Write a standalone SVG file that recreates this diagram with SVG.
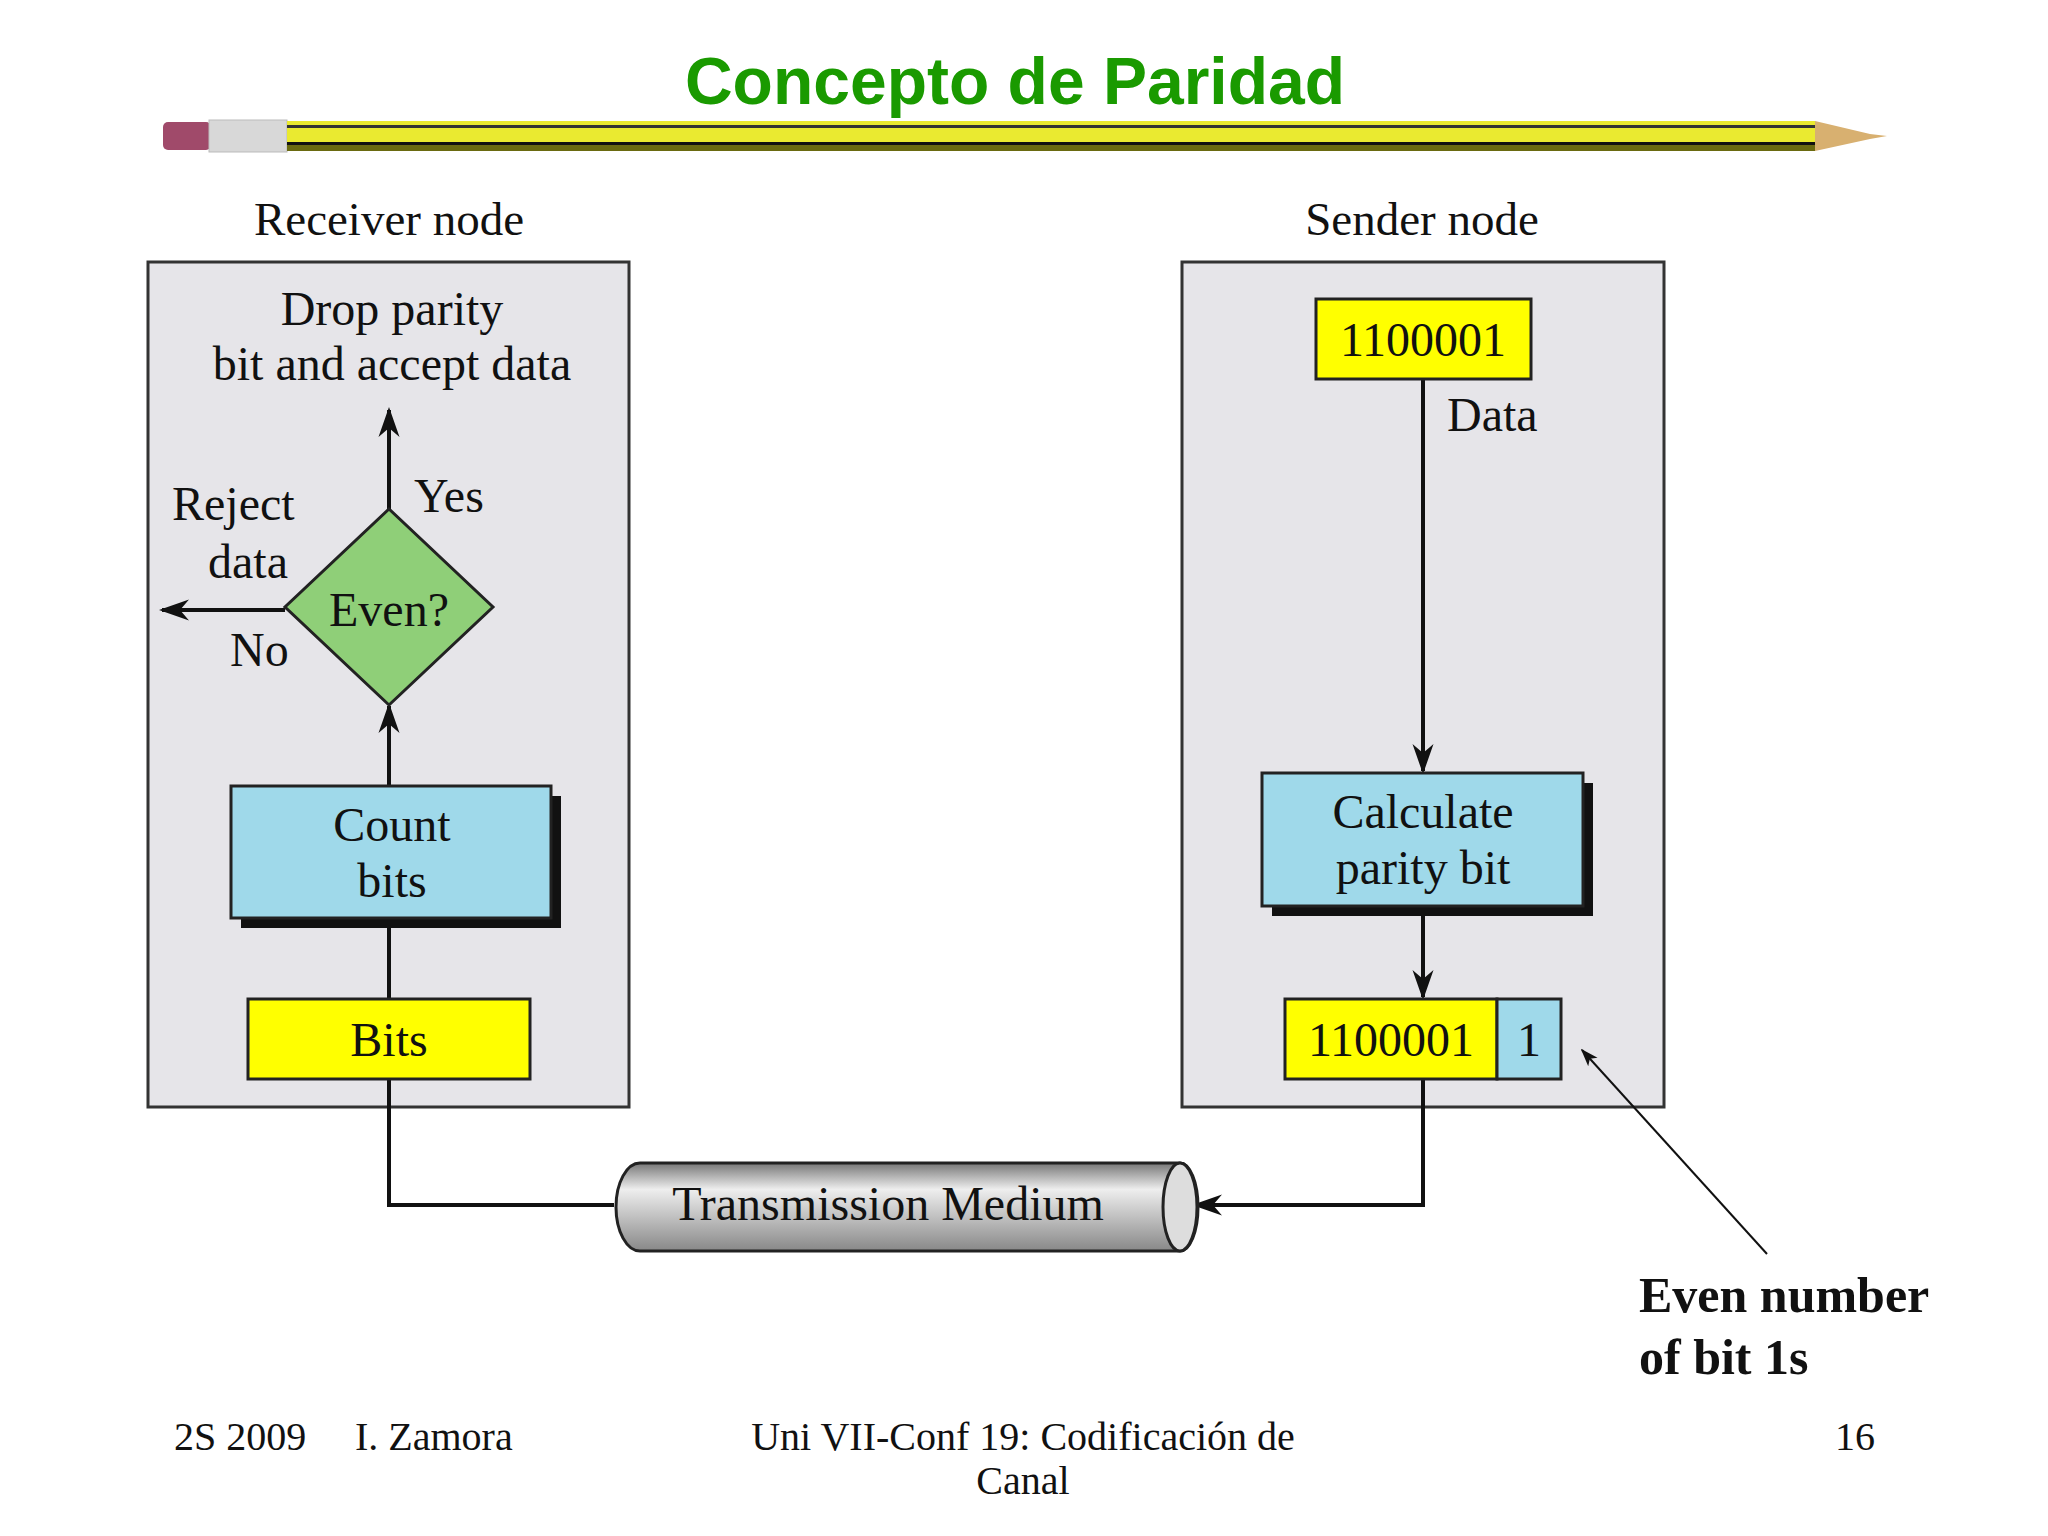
<svg xmlns="http://www.w3.org/2000/svg" width="2048" height="1536" viewBox="0 0 2048 1536">
<defs>
<style>
.t{font-family:"Liberation Serif",serif;fill:#111;}
.box{fill:#e6e5e9;stroke:#333;stroke-width:3}
.ln{stroke:#111;stroke-width:4;fill:none}
.blue{fill:#9fd9ea;stroke:#222;stroke-width:3}
.yel{fill:#ffff00;stroke:#222;stroke-width:3}
</style>
<marker id="ah" viewBox="0 0 20 20" refX="18" refY="10" markerWidth="30" markerHeight="30" markerUnits="userSpaceOnUse" orient="auto"><path d="M0,3 L20,10 L0,17 L6,10 Z" fill="#111"/></marker>
<marker id="as" viewBox="0 0 20 20" refX="18" refY="10" markerWidth="18" markerHeight="18" markerUnits="userSpaceOnUse" orient="auto"><path d="M0,3 L20,10 L0,17 L5,10 Z" fill="#111"/></marker>
<linearGradient id="cyl" x1="0" y1="0" x2="0" y2="1"><stop offset="0" stop-color="#777"/><stop offset="0.3" stop-color="#eee"/><stop offset="1" stop-color="#888"/></linearGradient>
</defs>
<rect width="2048" height="1536" fill="#fff"/>
<text x="1015" y="104" text-anchor="middle" font-family="Liberation Sans,Arial,sans-serif" font-weight="bold" font-size="66" fill="#1a9a00">Concepto de Paridad</text>
<g id="pencil">
<rect x="163" y="122" width="48" height="28" rx="5" fill="#a04a6a"/>
<rect x="209" y="120" width="78" height="32" fill="#d8d8d8" stroke="#bbb"/>
<rect x="287" y="121" width="1528" height="30" fill="#eaea30"/>
<rect x="287" y="125" width="1528" height="3" fill="#333"/>
<rect x="287" y="142" width="1528" height="3" fill="#111"/>
<rect x="287" y="145" width="1528" height="6" fill="#6a6a10"/>
<polygon points="1815,121 1870,134 1887,136 1870,139 1815,151" fill="#d8b070"/>
</g>
<text class="t" x="389" y="235" text-anchor="middle" font-size="47">Receiver node</text>
<text class="t" x="1422" y="235" text-anchor="middle" font-size="47">Sender node</text>
<g id="receiver"><rect class="box" x="148" y="262" width="481" height="845"/></g>
<g id="sender"><rect class="box" x="1182" y="262" width="482" height="845"/></g>
<g id="drop"><text class="t" x="392" y="325" text-anchor="middle" font-size="48">Drop parity</text><text class="t" x="392" y="380" text-anchor="middle" font-size="48">bit and accept data</text></g>
<g id="reject"><text class="t" x="172" y="520" font-size="48">Reject</text><text class="t" x="248" y="578" text-anchor="middle" font-size="48">data</text></g>
<g id="connectors">
<line class="ln" x1="389" y1="509" x2="389" y2="410" marker-end="url(#ah)"/>
<line class="ln" x1="285" y1="610" x2="162" y2="610" marker-end="url(#ah)"/>
<line class="ln" x1="389" y1="786" x2="389" y2="706" marker-end="url(#ah)"/>
<line class="ln" x1="389" y1="918" x2="389" y2="999"/>
<polyline class="ln" points="389,1079 389,1205 614,1205"/>
<line class="ln" x1="1423" y1="379" x2="1423" y2="771" marker-end="url(#ah)"/>
<line class="ln" x1="1423" y1="906" x2="1423" y2="997" marker-end="url(#ah)"/>
<polyline class="ln" points="1423,1079 1423,1205 1195,1205" marker-end="url(#ah)"/>
<line stroke="#111" stroke-width="2" x1="1767" y1="1254" x2="1582" y2="1050" marker-end="url(#as)"/>
</g>
<text class="t" x="414" y="512" font-size="48">Yes</text>
<text class="t" x="230" y="666" font-size="48">No</text>
<g id="even"><polygon points="389,509 493,607 389,705 285,607" fill="#8fcf78" stroke="#222" stroke-width="3"/><text class="t" x="389" y="626" text-anchor="middle" font-size="48">Even?</text></g>
<g id="count"><rect x="241" y="796" width="320" height="132" fill="#111"/><rect class="blue" x="231" y="786" width="320" height="132"/><text class="t" x="392" y="841" text-anchor="middle" font-size="48">Count</text><text class="t" x="392" y="897" text-anchor="middle" font-size="48">bits</text></g>
<g id="bits"><rect class="yel" x="248" y="999" width="282" height="80"/><text class="t" x="389" y="1056" text-anchor="middle" font-size="48">Bits</text></g>
<g id="data"><rect class="yel" x="1316" y="299" width="215" height="80"/><text class="t" x="1423" y="356" text-anchor="middle" font-size="48">1100001</text><text class="t" x="1447" y="431" font-size="48">Data</text></g>
<g id="calc"><rect x="1272" y="783" width="321" height="133" fill="#111"/><rect class="blue" x="1262" y="773" width="321" height="133"/><text class="t" x="1423" y="828" text-anchor="middle" font-size="48">Calculate</text><text class="t" x="1423" y="884" text-anchor="middle" font-size="48">parity bit</text></g>
<g id="coded"><rect class="yel" x="1285" y="999" width="212" height="80"/><rect class="blue" x="1497" y="999" width="64" height="80"/><text class="t" x="1391" y="1056" text-anchor="middle" font-size="48">1100001</text><text class="t" x="1529" y="1056" text-anchor="middle" font-size="48">1</text></g>
<g id="medium"><path d="M640,1163 L1180,1163 A18,44 0 0 1 1180,1251 L640,1251 A24,44 0 0 1 640,1163 Z" fill="url(#cyl)" stroke="#222" stroke-width="3"/><ellipse cx="1180" cy="1207" rx="17" ry="44" fill="#ddd" stroke="#222" stroke-width="3"/><text class="t" x="888" y="1220" text-anchor="middle" font-size="48">Transmission Medium</text></g>
<g id="note"><text class="t" x="1639" y="1312" font-size="50" font-weight="bold">Even number</text><text class="t" x="1639" y="1374" font-size="50" font-weight="bold">of bit 1s</text></g>
<g id="footer">
<text class="t" x="174" y="1450" font-size="40">2S 2009</text>
<text class="t" x="355" y="1450" font-size="40">I. Zamora</text>
<text class="t" x="1023" y="1450" text-anchor="middle" font-size="40">Uni VII-Conf 19: Codificación de</text>
<text class="t" x="1023" y="1494" text-anchor="middle" font-size="40">Canal</text>
<text class="t" x="1855" y="1450" text-anchor="middle" font-size="40">16</text>
</g>
</svg>
